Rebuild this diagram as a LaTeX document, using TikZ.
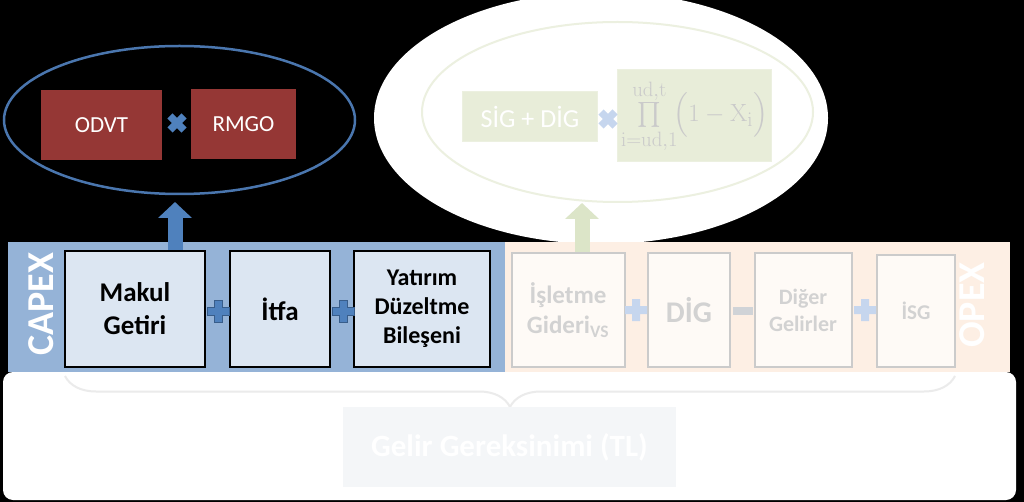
\documentclass[tikz,border=0pt]{standalone}
\usepackage{amsmath}
\usepackage[no-math]{fontspec}
\setmainfont{Carlito}
\usetikzlibrary{shapes.geometric,arrows.meta,decorations.pathreplacing}

\definecolor{capexband}{HTML}{95B3D7}
\definecolor{capexbox}{HTML}{DCE6F2}
\definecolor{opexband}{HTML}{FDEFE4}
\definecolor{opexbox}{HTML}{FEFAF6}
\definecolor{opexline}{HTML}{CBCBCB}
\definecolor{opextext}{HTML}{D2D2D2}
\definecolor{darkred}{HTML}{953735}
\definecolor{ellblue}{HTML}{4A76AE}
\definecolor{markblue}{HTML}{4F81BD}
\definecolor{markedge}{HTML}{385D8A}
\definecolor{paleblue}{HTML}{C6D6EE}
\definecolor{palegreen}{HTML}{E8EDD9}
\definecolor{palering}{HTML}{ECF0E0}
\definecolor{palearrow}{HTML}{DCE5C8}
\definecolor{bracegray}{HTML}{EBEBEB}
\definecolor{gelirbox}{HTML}{F4F6F8}

\begin{document}
\begin{tikzpicture}[x=1pt,y=-1pt,
    capexnode/.style={draw=black, line width=2.5pt, fill=capexbox, text=black,
        align=center, minimum height=116, inner sep=2pt},
    opexnode/.style={draw=opexline, line width=2pt, fill=opexbox, text=opextext,
        align=center, minimum height=114, inner sep=2pt},
    redbox/.style={fill=darkred, text=white, minimum height=70,
        font=\fontsize{23}{28}\selectfont},
    greenbox/.style={fill=palegreen, draw=palering, line width=1pt},
    bandlabel/.style={text=white, rotate=90, font=\bfseries\fontsize{38}{44}\selectfont},
    plusmark/.pic={\path[pic actions] (-11,-4) -- (-4,-4) -- (-4,-11) -- (4,-11)
        -- (4,-4) -- (11,-4) -- (11,4) -- (4,4) -- (4,11) -- (-4,11) -- (-4,4)
        -- (-11,4) -- cycle;},
    fatarrow/.style={line width=15pt, -{Triangle[width=33pt,length=16pt]}}]

    % background
    \useasboundingbox (0,0) rectangle (1024,502);
    \fill[black] (0,0) rectangle (1024,502);
    \fill[white] (601,118) ellipse [x radius=227, y radius=126];
    \fill[white, rounded corners=10] (3,372) rectangle (1016,500);

    % bands
    \fill[capexband] (8,242) rectangle (505,372);
    \fill[opexband] (505,242) rectangle (1010,372);
    \node[bandlabel] (capex) at (41,304) {CAPEX};
    \node[bandlabel] (opex) at (972,305) {OPEX};

    % capex terms
    \node[capexnode, minimum width=140, font=\bfseries\fontsize{27}{33}\selectfont]
        (makul) at (135,309) {Makul\\Getiri};
    \node[capexnode, minimum width=100, font=\bfseries\fontsize{27}{33}\selectfont]
        (itfa) at (280,309) {İtfa};
    \node[capexnode, minimum width=136, font=\bfseries\fontsize{24}{29}\selectfont]
        (yatirim) at (422,309) {Yatırım\\Düzeltme\\Bileşeni};
    \path (218,311) pic[fill=markblue, draw=markedge, line width=1pt] {plusmark};
    \path (343,311) pic[fill=markblue, draw=markedge, line width=1pt] {plusmark};

    % opex terms
    \node[opexnode, minimum width=113, font=\bfseries\fontsize{25}{30}\selectfont]
        (isletme) at (568,310) {İşletme\\Gideri\textsubscript{VS}};
    \node[opexnode, minimum width=82, font=\bfseries\fontsize{30}{36}\selectfont]
        (dig) at (689,310) {DİG};
    \node[opexnode, minimum width=97, font=\bfseries\fontsize{22}{27}\selectfont]
        (diger) at (803,310) {Diğer\\Gelirler};
    \node[opexnode, minimum width=78, minimum height=112,
        font=\bfseries\fontsize{21}{25}\selectfont] (isg) at (916,311) {İSG};
    \path (636,310) pic[fill=paleblue] {plusmark};
    \fill[opextext!80!paleblue] (733,307) rectangle (753,315);
    \path (865,310) pic[fill=paleblue] {plusmark};

    % left ellipse: ODVT x RMGO
    \node[ellipse, draw=ellblue, line width=2.5pt, minimum width=351,
        minimum height=148] (ellL) at (179.5,120) {};
    \node[redbox, minimum width=121] (odvt) at (101.5,125) {ODVT};
    \node[redbox, minimum width=105] (rmgo) at (243.5,124) {RMGO};
    \path (177,123) pic[rotate=45, scale=0.9, fill=markblue] {plusmark};

    % right ellipse: SiG + DiG x product
    \node[ellipse, draw=palering, line width=2pt, minimum width=391,
        minimum height=180] (ellR) at (617.5,112) {};
    \node[greenbox, minimum width=135, minimum height=50, text=white,
        font=\fontsize{26}{31}\selectfont] (sigdig) at (530,117) {SİG + DİG};
    \node[greenbox, minimum width=151, minimum height=92, text=opextext!90!gray,
        font=\fontsize{30}{36}\selectfont] (prod) at (694.5,116)
        {$\textstyle\prod\limits_{\mathrm{i=ud,1}}^{\mathrm{ud,t}}\!\Bigl(1-\mathrm{X}_{\mathrm{i}}\Bigr)$};
    \path (608,119) pic[rotate=45, scale=0.9, fill=paleblue] {plusmark};

    % arrows
    \coordinate (upL) at (175,202);
    \coordinate (upR) at (582,203);
    \draw[fatarrow, markblue] (upL |- makul.north) -- (upL);
    \draw[fatarrow, palearrow] (upR |- isletme.north) -- (upR);

    % brace and total
    \coordinate (brL) at (65,376);
    \coordinate (brR) at (955,376);
    \draw[bracegray, line width=2pt, decorate,
        decoration={brace, amplitude=31pt, mirror}] (brL) -- (brR);
    \node[fill=gelirbox, text=white, minimum width=333, minimum height=80,
        font=\bfseries\fontsize{31}{37}\selectfont] (gelir) at (509.5,447)
        {Gelir Gereksinimi (TL)};
\end{tikzpicture}
\end{document}
